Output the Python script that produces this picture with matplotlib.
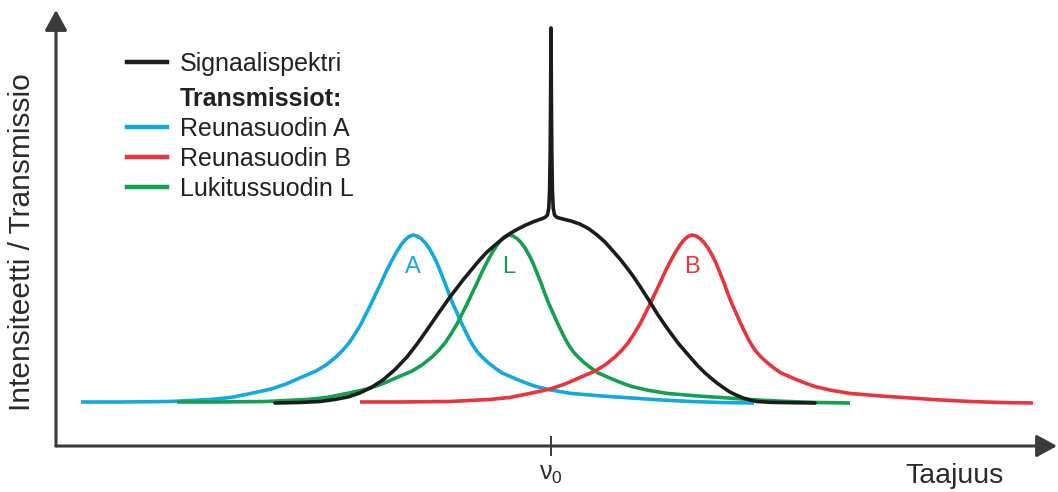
import matplotlib
matplotlib.use('Agg')
import numpy as np
import matplotlib.pyplot as plt
from matplotlib.lines import Line2D

plt.rcParams['font.family'] = ['Liberation Sans', 'DejaVu Sans']

# frequency offset from nu_0 (arb. units) and intensity of the signal spectrum
signal_freq = [-2.76, -2.51, -2.31, -2.16, -2.03, -1.91, -1.79, -1.68, -1.56, -1.44,
               -1.34, -1.24, -1.13, -1.01, -0.88, -0.74, -0.65, -0.56, -0.48, -0.41,
               -0.33, -0.25, -0.17, -0.10, -0.06, -0.035, -0.022, -0.014, -0.008, -0.004,
               0.0, 0.004, 0.008, 0.014, 0.022, 0.035, 0.06, 0.12, 0.20, 0.29,
               0.38, 0.46, 0.54, 0.61, 0.69, 0.76, 0.82, 0.90, 0.99, 1.07,
               1.16, 1.27, 1.39, 1.47, 1.54, 1.61, 1.66, 1.73, 1.79, 1.86,
               1.92, 1.99, 2.06, 2.19, 2.39, 2.64]
signal_int = [0.000, 0.003, 0.009, 0.021, 0.036, 0.060, 0.095, 0.137, 0.199, 0.274,
              0.351, 0.435, 0.530, 0.631, 0.732, 0.833, 0.893, 0.940, 0.979, 1.009,
              1.036, 1.060, 1.080, 1.095, 1.104, 1.119, 1.161, 1.268, 1.506, 1.804,
              2.232, 1.804, 1.506, 1.268, 1.161, 1.119, 1.104, 1.095, 1.083, 1.065,
              1.036, 1.000, 0.958, 0.911, 0.857, 0.804, 0.756, 0.685, 0.601, 0.524,
              0.446, 0.357, 0.274, 0.220, 0.179, 0.143, 0.119, 0.089, 0.065, 0.045,
              0.030, 0.018, 0.009, 0.004, 0.002, 0.000]

# transmission profile of a filter, offset from its centre
filt_offset = [-3.31, -2.91, -2.41, -2.01, -1.81, -1.61, -1.41, -1.26, -1.11, -0.96,
               -0.86, -0.76, -0.69, -0.63, -0.57, -0.51, -0.46, -0.41, -0.36, -0.31,
               -0.26, -0.21, -0.16, -0.11, -0.07, -0.03, 0.01, 0.05, 0.09, 0.13,
               0.17, 0.21, 0.25, 0.29, 0.33, 0.37, 0.41, 0.45, 0.49, 0.53,
               0.57, 0.61, 0.65, 0.70, 0.76, 0.83, 0.90, 0.97, 1.05, 1.14,
               1.24, 1.39, 1.59, 1.89, 2.19, 2.49, 2.79, 3.09, 3.42]
filt_trans = [0.006, 0.006, 0.009, 0.021, 0.033, 0.057, 0.083, 0.113, 0.152, 0.190,
              0.226, 0.274, 0.315, 0.357, 0.411, 0.470, 0.530, 0.589, 0.652, 0.714,
              0.780, 0.839, 0.893, 0.940, 0.970, 0.991, 1.000, 0.994, 0.979, 0.955,
              0.923, 0.881, 0.833, 0.774, 0.714, 0.649, 0.589, 0.536, 0.482, 0.432,
              0.384, 0.342, 0.307, 0.274, 0.241, 0.208, 0.179, 0.161, 0.140, 0.119,
              0.098, 0.077, 0.057, 0.042, 0.030, 0.018, 0.009, 0.003, 0.000]

filter_names = ['Reunasuodin A', 'Reunasuodin B', 'Lukitussuodin L']
filter_letters = ['A', 'B', 'L']
filter_centres = [-1.39, 1.40, -0.43]
filter_colors = ['#12a9e1', '#e8343c', '#14a04e']

black = '#1c1c1c'
axis_col = '#3a3a3a'

W, H = 1058, 492
fig = plt.figure(figsize=(W / 100, H / 100), dpi=100)
ax = fig.add_axes([56 / W, 1 - 446 / H, 1001 / W, 436 / H])
ax.set_xlim(-4.95, 5.06)
ax.set_ylim(-0.256, 2.339)
for s in ax.spines.values():
    s.set_visible(False)

lw = 2.6
fx = np.array(filt_offset)
order = [0, 2, 1]  # A, L, B
for i in order:
    ax.plot(fx + filter_centres[i], filt_trans, color=filter_colors[i], lw=lw,
            solid_capstyle='butt', solid_joinstyle='round')
    ax.text(filter_centres[i] + 0.01, 0.81, filter_letters[i], color=filter_colors[i],
            fontsize=17, ha='center', va='center')

ax.plot(signal_freq, signal_int, color=black, lw=lw, solid_capstyle='round',
        solid_joinstyle='round')

# axes as arrows
arrow = dict(arrowstyle='-|>,head_length=0.62,head_width=0.34', mutation_scale=20,
             lw=2.2, color=axis_col, shrinkA=0, shrinkB=0)
ax.annotate('', xy=(1, 0), xytext=(0, 0), xycoords='axes fraction', arrowprops=arrow)
ax.annotate('', xy=(0, 1), xytext=(0, 0), xycoords='axes fraction', arrowprops=arrow)

ax.set_yticks([])
ax.set_xticks([0])
ax.set_xticklabels([r'$\mathregular{\nu_0}$'])
ax.tick_params(axis='x', direction='inout', length=14.4, width=1.4, color=axis_col,
               labelsize=18, labelcolor='#2a2a2a', pad=4)

fig.text(905 / W, 1 - 483 / H, 'Taajuus', fontsize=20.5, color='#2a2a2a',
         ha='left', va='baseline')
fig.text(22 / W, 1 - 242 / H, 'Intensiteetti / Transmissio', fontsize=21.5,
         color='#2a2a2a', rotation=90, ha='center', va='center')

# legend
h_sig = [Line2D([], [], color=black, lw=3.2)]
leg1 = ax.legend(h_sig, ['Signaalispektri'], loc='upper left',
                 bbox_to_anchor=(127 / W, 1 - 52 / H), bbox_transform=fig.transFigure,
                 frameon=False, fontsize=18, handlelength=1.6, handletextpad=0.52,
                 borderpad=0, borderaxespad=0)
ax.add_artist(leg1)

h_filt = [Line2D([], [], color='none')] + \
         [Line2D([], [], color=filter_colors[i], lw=3.2) for i in range(3)]
leg2 = ax.legend(h_filt, ['Transmissiot:'] + filter_names, loc='upper left',
                 bbox_to_anchor=(127 / W, 1 - 87 / H), bbox_transform=fig.transFigure,
                 frameon=False, fontsize=18, handlelength=1.6, handletextpad=0.52,
                 borderpad=0, borderaxespad=0, labelspacing=0.24)
leg2.get_texts()[0].set_fontweight('bold')
for t in list(leg1.get_texts()) + list(leg2.get_texts()):
    t.set_color('#222222')

fig.savefig('out.png', dpi=100)
